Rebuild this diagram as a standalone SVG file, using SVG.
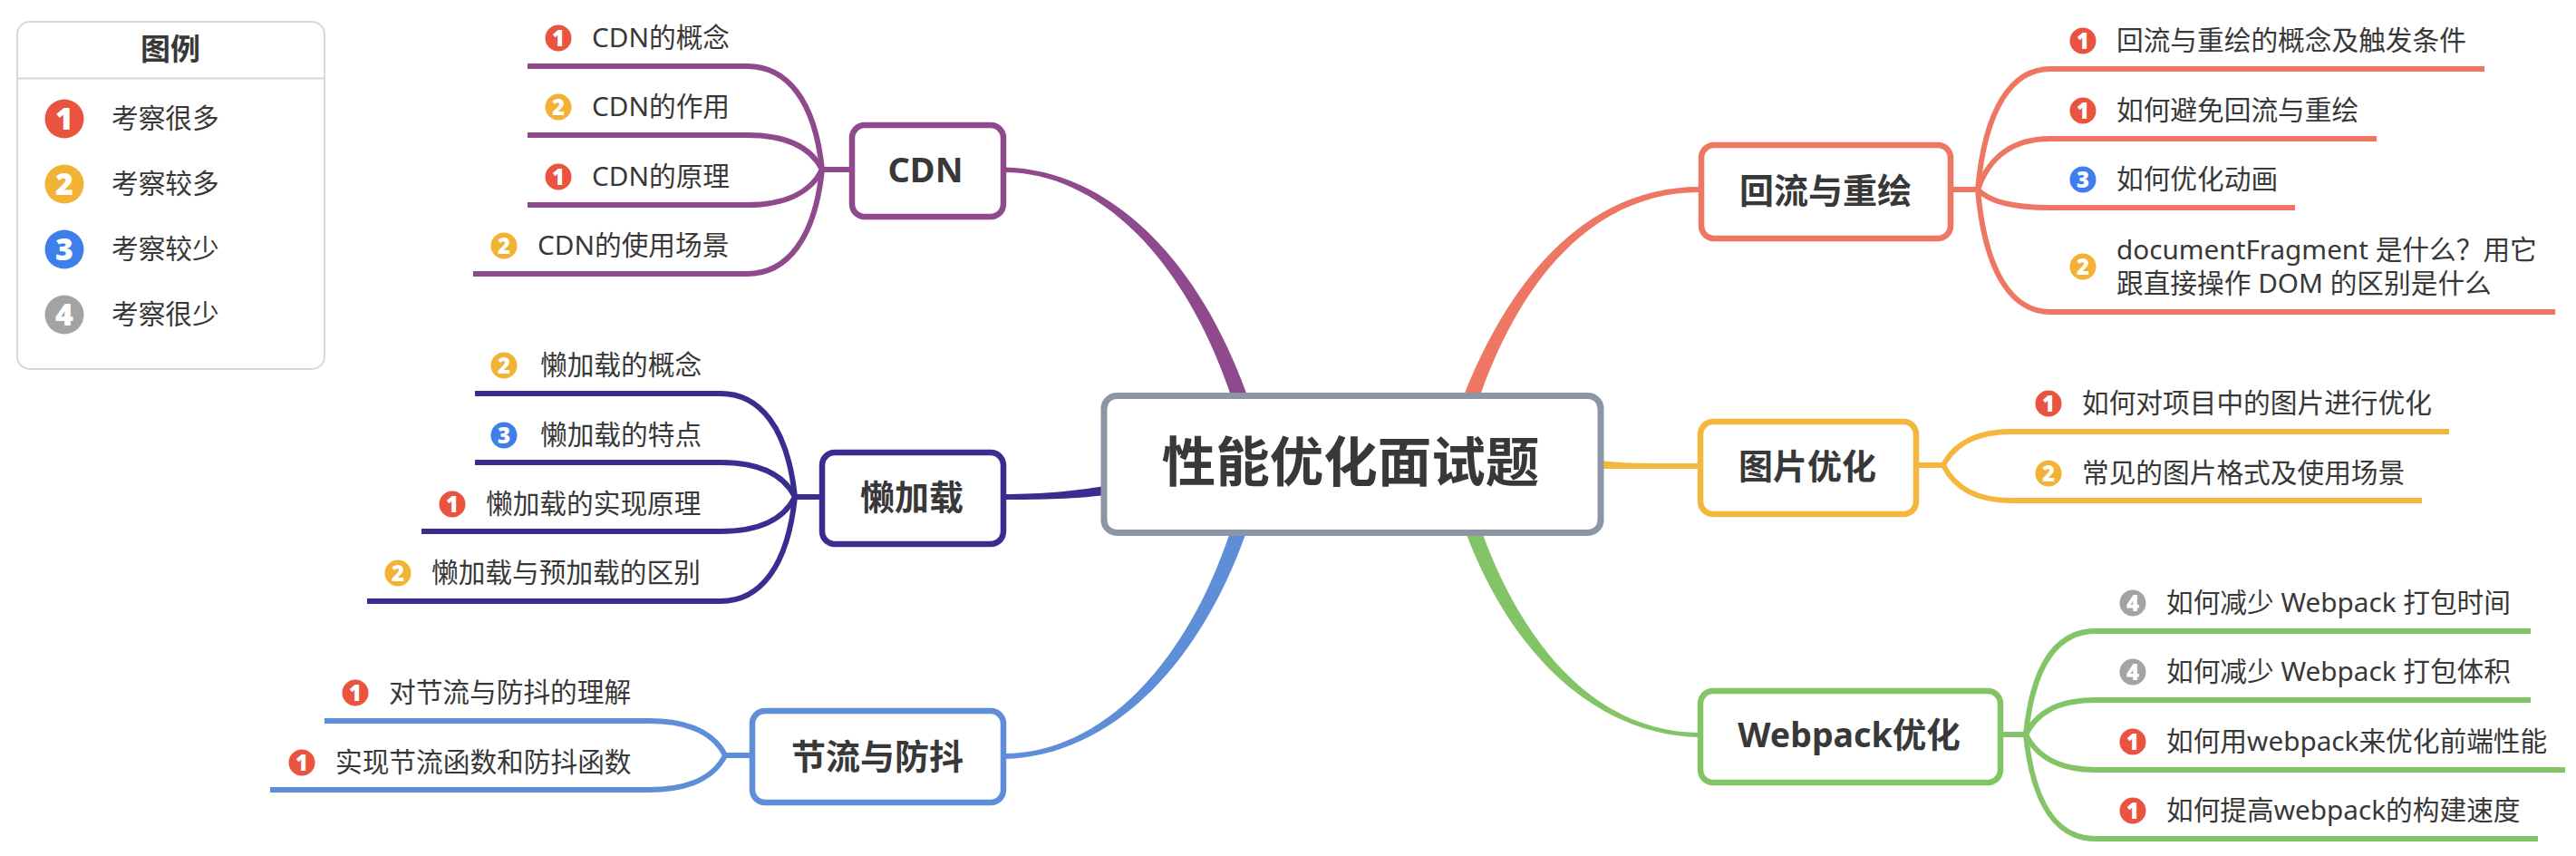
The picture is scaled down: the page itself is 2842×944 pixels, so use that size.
<svg xmlns="http://www.w3.org/2000/svg" width="2842" height="944" viewBox="0 0 2842 944">
<style>
text{font-family:"Noto Sans","Noto Sans CJK SC",sans-serif;fill:#383838;dominant-baseline:central}
.leaf{font-size:29.7px;transform:translateY(-1.5px)}
.topic{font-size:38px;font-weight:700;text-anchor:middle;transform:translateY(-1.5px)}
.root{font-size:59.500px;font-weight:700;text-anchor:middle;transform:translateY(-1.5px)}
.num{font-family:"Open Sans","Liberation Sans",sans-serif;font-weight:800;fill:#fff;text-anchor:middle;font-size:24px}
.numL{font-size:34px}
.box{fill:#fff;stroke-width:6.500}
.wire{fill:none;stroke-width:6}
.r{fill:#e9533f}.y{fill:#f2b233}.b{fill:#3f7fec}.g{fill:#a3a3a3}
.cRed{stroke:#ee7763}.cYel{stroke:#f3b73e}.cGrn{stroke:#83c467}.cBlu{stroke:#5f8ed8}.cNav{stroke:#3a2d90}.cPur{stroke:#8e4a8c}
</style>
<rect width="2842" height="944" fill="#fff"/>
<g id="connectors">
<path fill="#8e4a8c" d="M1108,184.5C1220,187 1320,280 1376,436L1358,436C1306,282 1210,190 1108,190Z"/>
<path fill="#5f8ed8" d="M1108,837C1220,834 1320,742 1375,587L1357,587C1306,740 1210,831 1108,831Z"/>
<path fill="#ee7763" d="M1875,206C1765,206 1675,285 1615,436L1633,436C1685,290 1770,212 1875,212Z"/>
<path fill="#83c467" d="M1635,587C1680,710 1760,808 1875,808L1875,813C1755,810 1665,715 1617,587Z"/>
<path fill="#f3b73e" d="M1765,508C1800,512 1840,511 1877,511L1877,517C1840,517 1800,517 1765,517Z"/>
<path fill="#3a2d90" d="M1108,545C1150,545 1190,541 1218,536L1218,546C1190,550 1150,551 1108,551Z"/>
<g class="wire cPur">
<path d="M1107,187H907"/>
<path d="M907,187C899,110 868,73 824,73H582"/>
<path d="M907,187C895,163 868,149 824,149H582"/>
<path d="M907,187C895,211 868,226 824,226H582"/>
<path d="M907,187C899,264 868,302 824,302H522"/>
</g>
<g class="wire cNav">
<path d="M908,548H877"/>
<path d="M877,548C869,471 838,434 795,434H524"/>
<path d="M877,548C865,524 838,510 795,510H524"/>
<path d="M877,548C865,572 838,586 795,586H465"/>
<path d="M877,548C869,626 838,663 795,663H405"/>
</g>
<g class="wire cBlu">
<path d="M831,833H800"/>
<path d="M800,833C788,809 760,795 716,795H358"/>
<path d="M800,833C788,857 760,871 716,871H298"/>
</g>
<g class="wire cRed">
<path d="M2151,209H2182"/>
<path d="M2182,209C2190,119 2220,76 2262,76H2741"/>
<path d="M2182,209C2194,174 2220,153 2262,153H2622"/>
<path d="M2182,209C2194,222 2220,229 2262,229H2532"/>
<path d="M2182,209C2190,301 2220,344 2262,344H2819"/>
</g>
<g class="wire cYel">
<path d="M2113,513H2144"/>
<path d="M2144,513C2156,490 2180,476 2219,476H2702"/>
<path d="M2144,513C2156,537 2180,552 2219,552H2672"/>
</g>
<g class="wire cGrn">
<path d="M2207,810H2235"/>
<path d="M2235,810C2243,732 2270,696 2312,696H2792"/>
<path d="M2235,810C2247,786 2270,772 2312,772H2792"/>
<path d="M2235,810C2247,834 2270,849 2312,849H2830"/>
<path d="M2235,810C2243,888 2270,925 2312,925H2800"/>
</g>
</g>
<g id="legend">
<rect x="19" y="24" width="339" height="383" rx="14" fill="#fff" stroke="#d8d8d8" stroke-width="2"/>
<path d="M19,86.500H358" stroke="#d8d8d8" stroke-width="2"/>
<text x="188" y="53" style="font-size:33px;font-weight:700;text-anchor:middle">图例</text>
<circle class="r" cx="71" cy="131" r="21.500"/><text class="num numL" x="71" y="130">1</text><text class="leaf" x="123" y="131">考察很多</text>
<circle class="y" cx="71" cy="203" r="21.500"/><text class="num numL" x="71" y="202">2</text><text class="leaf" x="123" y="203">考察较多</text>
<circle class="b" cx="71" cy="275" r="21.500"/><text class="num numL" x="71" y="274">3</text><text class="leaf" x="123" y="275">考察较少</text>
<circle class="g" cx="71" cy="347" r="21.500"/><text class="num numL" x="71" y="346">4</text><text class="leaf" x="123" y="347">考察很少</text>
</g>
<g id="root"><rect class="box" x="1218" y="436.500" width="548" height="151" rx="14" stroke="#8b95a6" style="stroke-width:7"/><text class="root" x="1490" y="509">性能优化面试题</text></g>
<g id="cdn"><rect class="box cPur" x="940" y="138" width="167" height="101" rx="14"/><text class="topic" x="1021" y="187">CDN</text></g>
<g id="lazy"><rect class="box cNav" x="907" y="499" width="200" height="101" rx="14"/><text class="topic" x="1006" y="548">懒加载</text></g>
<g id="throttle"><rect class="box cBlu" x="830" y="784" width="277" height="101" rx="14"/><text class="topic" x="968" y="834">节流与防抖</text></g>
<g id="reflow"><rect class="box cRed" x="1877" y="160" width="275" height="103" rx="14"/><text class="topic" x="2014" y="210">回流与重绘</text></g>
<g id="image"><rect class="box cYel" x="1876" y="465" width="238" height="102" rx="14"/><text class="topic" x="1994" y="514">图片优化</text></g>
<g id="webpack"><rect class="box cGrn" x="1876" y="762" width="331" height="101" rx="14"/><text class="topic" x="2040" y="811" style="font-size:37.500px">Webpack优化</text></g>
<g id="cdn-1"><circle class="r" cx="616" cy="42" r="14.500"/><text class="num" x="616" y="41">1</text><text class="leaf" x="653" y="42">CDN的概念</text></g>
<g id="cdn-2"><circle class="y" cx="616" cy="118" r="14.500"/><text class="num" x="616" y="117">2</text><text class="leaf" x="653" y="118">CDN的作用</text></g>
<g id="cdn-3"><circle class="r" cx="616" cy="195" r="14.500"/><text class="num" x="616" y="194">1</text><text class="leaf" x="653" y="195">CDN的原理</text></g>
<g id="cdn-4"><circle class="y" cx="556" cy="271" r="14.500"/><text class="num" x="556" y="270">2</text><text class="leaf" x="593" y="271">CDN的使用场景</text></g>
<g id="lazy-1"><circle class="y" cx="556" cy="403" r="14.500"/><text class="num" x="556" y="402">2</text><text class="leaf" x="596" y="403">懒加载的概念</text></g>
<g id="lazy-2"><circle class="b" cx="556" cy="480" r="14.500"/><text class="num" x="556" y="479">3</text><text class="leaf" x="596" y="480">懒加载的特点</text></g>
<g id="lazy-3"><circle class="r" cx="499" cy="556" r="14.500"/><text class="num" x="499" y="555">1</text><text class="leaf" x="536" y="556">懒加载的实现原理</text></g>
<g id="lazy-4"><circle class="y" cx="439" cy="632" r="14.500"/><text class="num" x="439" y="631">2</text><text class="leaf" x="476" y="632">懒加载与预加载的区别</text></g>
<g id="throttle-1"><circle class="r" cx="392" cy="764" r="14.500"/><text class="num" x="392" y="763">1</text><text class="leaf" x="429" y="764">对节流与防抖的理解</text></g>
<g id="throttle-2"><circle class="r" cx="333" cy="841" r="14.500"/><text class="num" x="333" y="840">1</text><text class="leaf" x="370" y="841">实现节流函数和防抖函数</text></g>
<g id="reflow-1"><circle class="r" cx="2298" cy="45" r="14.500"/><text class="num" x="2298" y="44">1</text><text class="leaf" x="2335" y="45">回流与重绘的概念及触发条件</text></g>
<g id="reflow-2"><circle class="r" cx="2298" cy="122" r="14.500"/><text class="num" x="2298" y="121">1</text><text class="leaf" x="2335" y="122">如何避免回流与重绘</text></g>
<g id="reflow-3"><circle class="b" cx="2298" cy="198" r="14.500"/><text class="num" x="2298" y="197">3</text><text class="leaf" x="2335" y="198">如何优化动画</text></g>
<g id="reflow-4"><circle class="y" cx="2298" cy="294" r="14.500"/><text class="num" x="2298" y="293">2</text><text class="leaf" x="2335" y="276">documentFragment 是什么？用它</text><text class="leaf" x="2335" y="313">跟直接操作 DOM 的区别是什么</text></g>
<g id="image-1"><circle class="r" cx="2260" cy="445" r="14.500"/><text class="num" x="2260" y="444">1</text><text class="leaf" x="2297" y="445">如何对项目中的图片进行优化</text></g>
<g id="image-2"><circle class="y" cx="2260" cy="522" r="14.500"/><text class="num" x="2260" y="521">2</text><text class="leaf" x="2297" y="522">常见的图片格式及使用场景</text></g>
<g id="webpack-1"><circle class="g" cx="2353" cy="665" r="14.500"/><text class="num" x="2353" y="664">4</text><text class="leaf" x="2390" y="665">如何减少 Webpack 打包时间</text></g>
<g id="webpack-2"><circle class="g" cx="2353" cy="741" r="14.500"/><text class="num" x="2353" y="740">4</text><text class="leaf" x="2390" y="741">如何减少 Webpack 打包体积</text></g>
<g id="webpack-3"><circle class="r" cx="2353" cy="818" r="14.500"/><text class="num" x="2353" y="817">1</text><text class="leaf" x="2390" y="818">如何用webpack来优化前端性能</text></g>
<g id="webpack-4"><circle class="r" cx="2353" cy="894" r="14.500"/><text class="num" x="2353" y="893">1</text><text class="leaf" x="2390" y="894">如何提高webpack的构建速度</text></g>
</svg>
